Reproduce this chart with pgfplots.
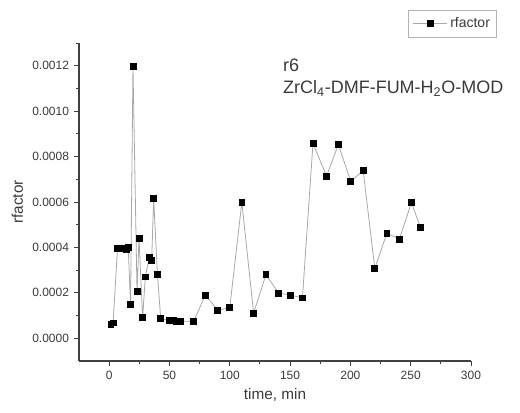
\documentclass[border=0pt]{standalone}
\usepackage{pgfplots}
\pgfplotsset{compat=1.18}
\usepackage{fontspec}
\setmainfont{Liberation Sans}
\definecolor{txt}{HTML}{3A3A3A}
\definecolor{ln}{HTML}{A8A8A8}
\begin{document}
\begin{tikzpicture}
\useasboundingbox (-59.25pt,-38.25pt) rectangle (330.75pt,270.75pt);
\begin{axis}[
    scale only axis,
    width=294pt, height=238.5pt,
    xmin=-25, xmax=300,
    ymin=-0.0001, ymax=0.0013,
    axis lines=left,
    axis line style={-, black!75, line width=0.8pt},
    tick align=outside,
    tick style={black!75, line width=0.7pt},
    major tick length=4pt, minor tick length=2.2pt,
    xtick={0,50,...,300}, minor xtick={25,75,...,275},
    ytick={0,0.0002,...,0.00121}, minor ytick={0.0001,0.0003,...,0.00131},
    scaled y ticks=false,
    yticklabel style={/pgf/number format/.cd, fixed, fixed zerofill, precision=4, assume math mode=true},
    xticklabel style={/pgf/number format/assume math mode=true},
    ticklabel style={font=\fontsize{9}{10}\selectfont, text=txt},
    label style={font=\fontsize{11.5}{13}\selectfont, text=txt},
    xlabel={time, min},
    ylabel={rfactor},
    clip=false,
    legend style={at={(rel axis cs:1.066,1.104)}, anchor=north east,
        draw=black!30, font=\fontsize{10.5}{12}\selectfont, text=txt,
        inner xsep=3pt, inner ysep=3.5pt, row sep=0pt},
    legend image code/.code={\draw[mark repeat=2,mark phase=2,#1]
        plot coordinates {(0cm,0cm) (0.45cm,0cm) (0.9cm,0cm)};},
    legend cell align=left,
]
\addplot[ln, line width=0.6pt, mark=square*, mark size=2.2pt,
    mark options={fill=black, draw=black}] coordinates {
    (1.4,0.0000622) (3.3,0.000068) (6.9,0.000396) (11.1,0.000394)
    (14.4,0.000391) (15.8,0.000399) (17.75,0.00015) (19.75,0.001196)
    (23.1,0.000206) (24.75,0.00044) (27.75,0.000092) (30,0.00027)
    (33.3,0.000357) (35.25,0.000342) (36.9,0.000615) (40,0.000283)
    (42.75,0.000088) (50,0.000078) (53,0.000077) (56,0.000076)
    (59,0.000076) (70,0.000074) (79.75,0.00019) (90,0.000124)
    (100,0.000135) (110,0.000599) (119.75,0.000111) (130,0.00028)
    (140.6,0.000199) (150.25,0.00019) (160.25,0.000178) (169,0.000858)
    (180.25,0.000714) (190,0.000853) (200.25,0.000692) (210.6,0.000738)
    (220.25,0.000308) (230.25,0.000462) (240.6,0.000437) (250.6,0.000597)
    (258,0.00049)
};
\addlegendentry{rfactor}
\node[anchor=west, text=txt, font=\fontsize{13.5}{15}\selectfont, inner sep=0pt]
    at (rel axis cs:0.52,0.931) {r6};
\node[anchor=west, text=txt, font=\fontsize{13.5}{15}\selectfont, inner sep=0pt]
    at (rel axis cs:0.52,0.858) {ZrCl\textsubscript{4}-DMF-FUM-H\textsubscript{2}O-MOD};
\end{axis}
\end{tikzpicture}
\end{document}
